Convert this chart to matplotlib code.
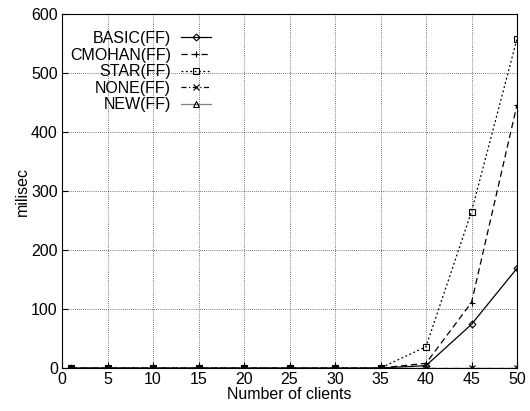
import matplotlib
matplotlib.use("Agg")
import matplotlib.pyplot as plt

# data
clients = [1, 5, 10, 15, 20, 25, 30, 35, 40, 45, 50]
basic = [0, 0, 0, 0, 0, 0, 0, 0, 4, 74, 169]
cmohan = [0, 0, 0, 0, 0, 0, 0, 0, 8, 111, 446]
star = [0, 0, 0, 0, 0, 0, 0, 0, 36, 265, 558]
none = [0, 0, 0, 0, 0, 0, 0, 0, 0, 0, 0]
new = [0, 0, 0, 0, 0, 0, 0, 0, 0, 0, 0]

plt.rcParams['font.family'] = ['Liberation Sans', 'DejaVu Sans']
plt.rcParams['font.size'] = 11.5

W, H = 530, 411
fig = plt.figure(figsize=(W / 100, H / 100), dpi=100)
ax = fig.add_axes([62/W, 1 - 368/H, 455/W, 354/H])

ax.plot(clients, basic, color='black', lw=0.9, ls='-', marker='D', ms=3.5, mfc='none', mew=0.8, label='BASIC(FF)')
ax.plot(clients, cmohan, color='black', lw=0.9, ls=(0, (5, 3)), marker='+', ms=5, mew=0.8, label='CMOHAN(FF)')
ax.plot(clients, star, color='black', lw=0.9, ls=(0, (1.5, 2)), marker='s', ms=4, mfc='none', mew=0.8, label='STAR(FF)')
ax.plot(clients, none, color='black', lw=0.9, ls=(0, (4, 2, 1, 2)), marker='x', ms=4, mew=0.8, label='NONE(FF)')
ax.plot(clients, new, color='gray', lw=0.9, ls='-', marker='^', ms=4, mfc='none', mec='black', mew=0.8, label='NEW(FF)')

ax.set_xlim(0, 50)
ax.set_ylim(0, 600)
ax.set_xticks(range(0, 51, 5))
ax.set_yticks(range(0, 601, 100))
ax.grid(True, color='black', ls=(0, (1, 2)), lw=0.5)
ax.tick_params(direction='in', length=4, labelsize=11.5, pad=3)
ax.set_xlabel('Number of clients', labelpad=0)
ax.set_ylabel('milisec', labelpad=1)

leg = ax.legend(loc='upper right', bbox_to_anchor=(211/W, 1 - 31/H), bbox_transform=fig.transFigure,
                frameon=False, markerfirst=False, borderpad=0, borderaxespad=0,
                handlelength=1.9, labelspacing=0.1, handletextpad=0.6)
for t in leg.get_texts():
    t.set_ha('right')

fig.savefig('out.png', dpi=100)
